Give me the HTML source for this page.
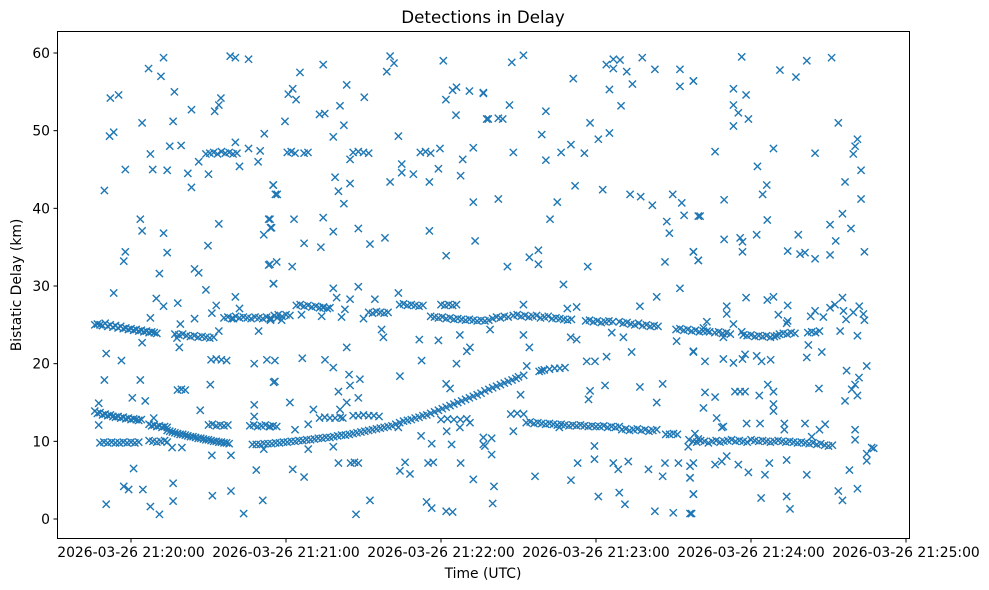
<!DOCTYPE html>
<html><head><meta charset="utf-8"><style>
html,body{margin:0;padding:0;background:#fff;}
svg{display:block;font-family:"DejaVu Sans","Liberation Sans",sans-serif;}
</style></head><body>
<svg id="chart" width="989" height="590" viewBox="0 0 989 590">
<rect x="0" y="0" width="989" height="590" fill="#fff"/>
<text x="483" y="23" font-size="16.7" text-anchor="middle" fill="#000">Detections in Delay</text>
<g id="marks"></g>
<rect x="57.5" y="31.5" width="852" height="507" fill="none" stroke="#000" stroke-width="1"/>
<g id="yaxis"></g>
<g id="xaxis"></g>
<text x="483" y="578" font-size="13.9" text-anchor="middle">Time (UTC)</text>
<text x="0" y="0" font-size="13.9" text-anchor="middle" transform="translate(21,285) rotate(-90)">Bistatic Delay (km)</text>
</svg>
<script>
// seconds after 2026-03-26 21:20:00 UTC, delay in km
const yTicks = [0, 10, 20, 30, 40, 50, 60];
const xTickSeconds = [0, 60, 120, 180, 240, 300];
const xTickLabels = ["2026-03-26 21:20:00","2026-03-26 21:21:00","2026-03-26 21:22:00","2026-03-26 21:23:00","2026-03-26 21:24:00","2026-03-26 21:25:00"];

const trackTimes = [
-14,-13,-12,-11,-10,-9,-8,-7,-6,-5,-4,-3,-2,-1,0,1,2,3,4,5,6,7,8,9,10,
17,18.5,20,21.5,23,24.5,26,27.5,29,30.5,32,
36,37.5,39,40.5,42,43.5,45,46.5,48,49.5,
51,52.5,54,55.5,57,58.5,60,61.5,
64,65.5,67,68.5,70,71.5,73,74.5,76,77,
92,93.5,95,96.5,98,99.5,
104,105.5,107,108.5,110,111.5,113,
116,117.5,119,120.5,122,123.5,125,126.5,128,129.5,131,132.5,134,135.5,137,138.5,140,141.5,143,144.5,146,
120,121.5,123,124.5,126,
148,149.5,151,152.5,154,155.5,157,158.5,160,161.5,163,164.5,166,167.5,169,170.5,
176,177.5,179,180.5,182,183.5,185,186.5,
189,190.5,192,193.5,195,196.5,198,199.5,201,202.5,204,
211,212.5,214,215.5,217,218.5,220,221.5,223,224,
226,227.5,229,230.5,232,
237,238.5,240,241.5,243,244.5,246,247.5,249,250,
251,252.5,254,255.5,257,
262,263.5,265,266.5,
-14,-13,-12,-11,-10,-9,-8,-7,-6,-5,-4,-3,-2,-1,0,1,2,3,4,
-12,-10.5,-9,-7.5,-6,-4.5,-3,-1.5,0,1.5,3,
7,8,9,10,11,12,13,14,
7,8.5,10,11.5,13,14,
14,15,16,17,18,19,20,21,22,23,24,25,26,27,28,29,30,31,32,33,34,35,36,37,38,
30,31.5,33,34.5,36,37.5,
46,47.5,49,50.5,52,53.5,55,
47,48.5,50,51.5,53,54.5,56,57.5,59,60.5,62,63.5,65,66.5,68,69.5,71,72.5,74,75.5,77,78.5,80,81.5,83,84.5,86,87.5,89,90.5,92,93.5,95,96.5,98,99.5,101,102.5,104,105.5,107,108.5,110,111.5,113,114.5,116,117.5,119,120.5,122,123.5,125,126.5,128,129.5,131,132.5,134,135.5,137,138.5,140,141.5,143,144.5,146,147.5,149,
150,152,158,159,160,162,164,166,168,
73,75,77,79,81,82,86,88,90,92,94,96,120,122.5,125,127.5,130,
147,149.5,152,
153,154.5,156,157.5,159,160.5,162,163.5,165,166.5,168,169.5,171,172.5,174,175.5,177,178.5,180,181.5,183,184.5,186,187.5,189,
190,191.5,193,194.5,196,197.5,199,200.5,202,203.5,
207,208.5,210,211.5,
216,217.5,219,220.5,222,223.5,225,226.5,228,229.5,231,232.5,234,235.5,237,238.5,240,241.5,243,244.5,246,247.5,249,250.5,252,253.5,255,256.5,258,259.5,261,262.5,264,265.5,267,268.5,270,271.5,
29,30.5,32,33.5,35,36.5,38,39.5,41,60.5,62,63.5,67,68.5,86,88,90,92,112,114,116,
31,33,35,37,18,19.5,21,73,75,85,86.5,88,115,117,122,124.5
];
const trackDelays = [
25.0,25.1,25.0,24.9,25.2,24.8,25.0,24.7,24.9,24.6,24.8,24.5,24.6,24.4,24.5,24.3,24.4,24.2,24.3,24.1,24.2,24.0,24.1,24.0,23.9,
23.8,23.7,23.8,23.6,23.5,23.6,23.4,23.5,23.4,23.3,23.4,
25.9,26.0,25.8,26.1,25.9,26.0,25.9,25.8,26.0,25.9,
25.8,26.0,25.9,26.2,26.3,26.1,26.3,26.2,
27.5,27.6,27.4,27.5,27.3,27.4,27.2,27.3,27.1,27.2,
26.6,26.5,26.7,26.6,26.5,26.6,
27.6,27.7,27.5,27.6,27.5,27.4,27.5,
26.1,26.0,25.9,26.0,25.8,25.9,25.7,25.8,25.7,25.6,25.7,25.6,25.5,25.6,25.5,25.6,25.8,26.0,25.9,26.1,26.0,
27.6,27.5,27.6,27.5,27.6,
26.2,26.3,26.1,26.2,26.0,26.1,26.2,25.9,26.0,26.1,25.8,25.9,25.8,25.7,25.6,25.7,
25.5,25.6,25.4,25.5,25.3,25.4,25.5,25.4,
25.4,25.2,25.3,25.1,25.0,25.2,24.9,25.0,24.8,24.9,24.8,
24.4,24.5,24.3,24.4,24.2,24.3,24.1,24.2,24.2,24.1,
24.0,24.1,23.9,24.0,23.8,
23.7,23.6,23.7,23.5,23.6,23.5,23.6,23.4,23.5,23.6,
23.8,23.9,23.8,24.0,23.9,
24.0,24.1,24.0,24.2,
13.9,13.6,13.7,13.4,13.5,13.3,13.4,13.2,13.1,13.2,13.0,13.1,12.9,13.0,12.8,12.9,12.8,12.7,12.8,
9.8,9.9,9.8,9.9,9.8,9.8,9.9,9.8,9.9,9.8,9.9,
12.2,12.0,12.1,11.9,12.0,11.8,11.9,11.8,
10.1,10.0,9.9,10.0,10.1,9.9,
11.4,11.3,11.2,11.1,11.0,10.9,10.9,10.8,10.7,10.6,10.6,10.5,10.4,10.4,10.3,10.2,10.2,10.1,10.0,10.0,9.9,9.9,9.8,9.8,9.7,
12.1,12.2,12.0,12.1,12.0,12.1,
12.0,12.1,11.9,12.0,12.1,11.9,12.0,
9.6,9.6,9.6,9.7,9.7,9.7,9.8,9.8,9.9,9.9,10.0,10.0,10.1,10.1,10.2,10.2,10.3,10.4,10.4,10.5,10.5,10.6,10.7,10.8,10.8,10.9,11.0,11.1,11.2,11.3,11.4,11.5,11.6,11.7,11.8,11.9,12.0,12.2,12.4,12.6,12.7,12.8,13.0,13.1,13.3,13.4,13.6,13.8,14.0,14.2,14.4,14.6,14.8,15.0,15.2,15.4,15.6,15.8,16.0,16.2,16.5,16.7,16.9,17.1,17.3,17.5,17.7,17.9,18.1,
18.3,18.5,19.0,19.1,19.2,19.3,19.4,19.4,19.5,
13.0,13.1,13.0,13.0,13.1,13.0,13.3,13.3,13.4,13.3,13.3,13.2,12.8,12.9,12.8,12.8,12.9,
13.5,13.6,13.5,
12.4,12.5,12.3,12.4,12.3,12.2,12.3,12.2,12.1,12.2,12.1,12.0,12.1,12.0,12.1,12.0,11.9,12.0,11.9,11.9,12.0,11.8,11.9,11.8,11.9,
11.5,11.6,11.4,11.5,11.6,11.4,11.5,11.3,11.4,11.5,
10.9,10.9,11.0,10.9,
10.2,10.0,9.9,10.1,10.0,9.8,10.0,10.1,9.9,10.0,10.1,10.2,10.0,10.1,10.0,9.9,10.2,10.1,10.0,10.1,10.0,9.9,10.0,10.1,10.0,9.9,10.0,9.9,9.8,9.9,9.8,9.7,9.8,9.6,9.7,9.5,9.4,9.5,
47.0,47.1,47.2,47.0,47.3,47.1,47.2,47.0,47.1,47.2,47.3,47.1,47.1,47.2,47.2,47.3,47.2,47.1,47.2,47.3,47.1,
20.5,20.6,20.5,20.4,16.6,16.7,16.6,52.1,52.2,7.2,7.3,7.2,7.2,7.3,1.0,0.9
];

const noiseTimes = [
12.6,6.8,11.6,38.4,40.4,45.5,-8,-4.8,16.8,23.4,32.4,34,34.8,4.3,16.3,-8.3,-6.7,7.5,15,19.4,40.4,45.5,50,51.6,-2.2,8.4,14,22,23.4,26.2,30,42,49.2,-10.3,55,55.9,
3.6,4.3,12.6,34,29.8,-2.2,-2.8,14,53.3,51.4,54,11,24.6,26.2,53.3,55.2,-6.7,29,40.4,9.8,12.6,18.1,33,31.3,42,7.5,19.1,24.6,34,49.4,54,17.8,18.7,-9.6,-3.7,47.7,52.6,-10.3,3.6,30.7,55.2,0.5,5.5,-12.5,26.8,47.7,47.7,-12.5,8.8,31.3,38.7,1,48.5,-2.8,-0.9,4.6,16.3,31.5,38.7,-9.6,7.5,11,16.3,43.6,51,4.3,39.7,15.9,19.7,51.4,
65.4,74.4,100.3,101.8,99,120.9,60.9,62.6,63.9,83.5,90.3,80.9,59.6,82.4,78.3,103.5,121.9,124.5,126,131,136.4,125.8,137.7,119.6,132.5,84.8,104.8,104.8,109.3,119,128.4,127.6,100.3,115.5,79,80.3,84.8,82.4,55.1,56.6,132.5,53.8,63.1,74.4,54.4,78.3,88,115.5,98.3,67,73.5,92.5,133.2,122,53.8,56.4,62.4,55.1,78.3,88,103.5,79.6,84.8,94.4,54,56.6,58.3,66,73.8,81.5,90,82.8,74.4,97,97.7,111.6,119,127.3,131.2,130,139,55.7,66.3,75.1,78.3,112.5,126,83.5,84.4,84.8,88.6,104.1,55.7,122,123.5,80.3,83.5,88,61.5,70.6,80.9,68.6,68.6,78.3,80.3,63.5,56.4,62.6,67,92.5,87.1,104.1,108,106.1,112.3,116.4,124.1,127.6,132.5,114.4,116.4,136.4,137,122.2,131.2,127.3,103.5,53.8,
147.4,151.9,171.2,184,186.7,189.3,186.7,191.9,197.9,202.8,212.5,212.5,217.7,185.2,194.1,136.4,146.5,138.3,142.2,143.9,160.6,159,177.7,185.2,180.9,148,160.6,166.5,170.3,175.5,189.7,171.9,182.6,193.2,197.3,201.8,209.7,213.2,214.1,207.4,208.4,219.6,142.2,165,162.2,154.2,157.7,157.7,145.7,176.8,206.7,217.7,219.6,167.4,212.5,203.5,197,151.9,172.5,168.9,151.9,154.2,170.2,172.5,186.1,190.6,193.8,211.2,217.7,153.2,176.4,179.6,184.1,183.5,197,205.8,203.5,177.7,177.1,150.8,136.4,139.6,139.6,148,179.4,179.4,172.9,186.7,188.6,192.5,200.3,205.8,206.7,211.9,215.7,216.4,216.4,218.3,219.6,156.4,170.3,140.5,140,180.9,189,191.2,202.8,209.9,216.4,217.7,165.8,
236.4,251.2,257.4,261.6,271.2,217.7,233.2,238.1,233.2,235.1,239,233.2,273.8,281.2,280.3,279.6,226.1,248.7,264.8,242.5,282.6,246.1,244.5,276.4,229.6,282.6,220.3,246.3,275.4,270.6,278.7,272.8,229.6,235.8,236.7,242.2,258.3,217.7,219.6,236.7,254.2,259,260.9,264.8,270.6,283.9,238.1,246.3,248.7,254.2,250.6,254.2,253.8,230.6,230.6,233.2,222.9,221.6,229.3,236.4,263.1,264.8,268,270.6,272.5,275.4,275.8,276.8,281.9,283.5,283.9,279.6,274.5,281.2,262.2,267.4,217.7,222.2,229.3,233.2,236.7,237.7,242.2,244.1,247.6,261.6,277,284.8,281.8,280.3,279,281.2,276.4,222.2,226.1,221.6,226.7,228.7,229.3,233.8,235.8,237.7,243.2,246.5,248.7,248.7,248.7,266.3,238.3,243.5,252.9,260.9,252.9,263.5,266.5,268.7,280.3,280.3,284.8,286.7,284.8,217.7,226.1,228.7,230.6,235.1,239,245.4,247.1,253.8,261.6,278.1,216.4,217.7,217,243.9,253.8,255.1,273.8,275.4,281.2,287.5
];
const noiseDelays = [
59.4,58.0,57.0,59.6,59.4,59.2,54.2,54.6,55.0,52.7,52.5,53.3,54.2,51.0,51.2,49.3,49.8,47.0,48.0,48.1,48.5,47.7,47.4,49.6,45.0,45.0,44.9,44.5,42.7,46.0,44.4,45.4,46.0,42.3,43.0,41.8,
38.6,37.1,36.8,38.0,35.2,34.4,33.2,34.3,38.6,36.6,37.5,31.6,32.2,31.7,32.7,30.3,29.1,29.5,28.6,28.4,27.4,27.8,27.5,26.5,27.1,25.9,25.1,25.8,24.2,24.2,25.6,23.3,22.1,21.3,20.4,20.0,20.5,17.9,17.9,17.3,17.6,15.6,15.2,14.9,14.0,14.7,13.2,12.1,13.0,8.2,8.2,6.5,6.3,4.2,3.8,3.8,4.6,3.0,3.6,1.9,1.6,0.6,2.3,0.7,2.4,22.7,25.8,9.2,9.2,9.0,
57.5,58.5,59.6,58.7,57.6,59.0,54.7,55.4,54.0,55.9,54.3,53.2,51.2,50.7,49.2,49.3,54.0,55.2,55.6,55.1,54.8,52.0,51.5,47.7,47.8,46.3,45.7,44.6,44.4,45.1,46.3,44.2,43.4,43.4,44.0,42.2,43.2,40.6,43.0,41.8,40.8,38.6,38.6,38.8,37.5,37.0,37.4,37.1,36.2,35.5,35.0,35.4,35.8,33.9,32.8,33.1,32.5,30.3,29.7,29.9,29.1,28.5,28.3,28.3,25.7,25.9,25.6,26.3,26.1,26.0,25.8,27.0,27.2,24.4,23.4,23.1,23.0,23.7,22.1,21.6,24.4,20.4,20.7,20.5,19.5,20.4,20.0,22.1,18.6,17.2,18.0,18.4,17.7,17.4,16.8,16.4,15.0,15.6,15.0,14.1,14.1,12.2,9.0,9.3,7.2,11.5,11.9,6.4,5.4,2.4,0.6,6.2,5.8,7.3,10.7,9.7,9.6,7.2,5.1,2.2,1.4,10.5,9.4,11.3,12.4,11.8,11.8,11.9,
58.8,59.7,56.7,58.5,59.2,59.1,58.0,57.6,59.4,57.9,57.9,55.7,56.4,55.3,56.0,54.9,53.3,51.5,51.6,51.5,52.5,49.5,51.0,49.7,48.9,47.2,46.2,47.2,48.2,47.1,53.2,42.9,42.4,41.8,41.5,40.4,41.8,40.7,39.1,38.3,36.8,39.0,41.2,40.8,38.6,33.7,34.6,32.8,32.5,32.5,33.1,34.4,33.3,30.2,29.7,28.6,27.4,27.6,27.3,27.1,23.7,22.1,23.4,23.1,24.0,23.4,21.5,22.9,21.6,19.7,20.3,20.3,20.9,17.2,17.0,17.4,15.0,16.5,15.4,16.0,9.6,10.4,8.3,11.3,9.4,7.7,7.2,7.2,6.4,7.4,6.4,5.5,7.2,7.2,9.3,6.8,5.3,11.0,10.3,5.5,5.0,4.2,2.0,2.9,3.4,1.9,1.0,0.8,0.7,3.2,11.8,
59.5,57.8,56.9,59.0,59.4,56.4,55.4,54.6,53.3,52.3,51.5,50.6,51.0,48.9,48.0,47.0,47.3,47.7,47.1,45.4,44.9,43.0,41.8,43.4,41.1,41.2,39.0,38.5,39.3,37.9,37.4,35.8,36.0,36.2,35.7,36.6,36.6,34.4,33.3,34.4,34.5,34.1,34.3,33.5,34.0,34.4,28.5,28.2,28.6,27.5,26.3,25.5,25.2,27.4,26.4,25.1,25.4,24.6,23.4,24.1,26.1,26.8,26.0,27.2,27.6,28.5,26.8,25.7,27.4,26.4,25.6,26.6,24.2,23.6,22.4,21.5,21.5,20.3,20.6,20.1,20.6,21.2,21.0,20.3,20.5,20.8,19.1,19.7,18.2,17.3,16.7,15.9,15.2,16.3,15.7,14.3,13.0,11.8,11.9,16.4,16.4,16.4,15.9,17.3,16.4,14.8,13.9,16.8,12.3,12.3,12.3,12.3,11.5,10.6,11.5,12.2,11.5,10.2,8.4,9.2,7.5,7.2,7.0,7.4,8.1,7.0,6.0,5.7,7.2,7.6,5.7,6.3,5.3,3.2,0.7,2.7,2.9,1.3,3.6,2.4,3.9,9.1
];

const NS = "http://www.w3.org/2000/svg";
const X0 = 131, PXS = 155/60;        // x axis: px per second
const Y0 = 519, PXK = (519-53)/60;   // y axis: px per km
function xScale(t){ return X0 + t*PXS; }
function yScale(d){ return Y0 - d*PXK; }

const marks = document.getElementById('marks');
function addX(t, d, name){
  const cx = xScale(t), cy = yScale(d), r = 3.6;
  const p = document.createElementNS(NS,'path');
  p.setAttribute('d', `M${cx-r},${cy-r}L${cx+r},${cy+r}M${cx-r},${cy+r}L${cx+r},${cy-r}`);
  p.setAttribute('stroke','#1f77b4');
  p.setAttribute('stroke-width','1.4');
  p.setAttribute('fill','none');
  
  
  marks.appendChild(p);
}
for (let i=0;i<trackTimes.length;i++){ addX(trackTimes[i], trackDelays[i], 'track-detection'); }
for (let i=0;i<noiseTimes.length;i++){ addX(noiseTimes[i], noiseDelays[i], 'detection-point'); }

const yaxis = document.getElementById('yaxis');
yTicks.forEach(v=>{
  const y = yScale(v);
  const l = document.createElementNS(NS,'line');
  l.setAttribute('x1',53.5); l.setAttribute('x2',57.5); l.setAttribute('y1',y); l.setAttribute('y2',y);
  l.setAttribute('stroke','#000');
  
  
  yaxis.appendChild(l);
  const tx = document.createElementNS(NS,'text');
  tx.setAttribute('x',50); tx.setAttribute('y',y+5);
  tx.setAttribute('font-size','13.9'); tx.setAttribute('text-anchor','end');
  tx.textContent = String(v);
  
  
  yaxis.appendChild(tx);
});
const xaxis = document.getElementById('xaxis');
xTickSeconds.forEach((s,i)=>{
  const x = xScale(s);
  const l = document.createElementNS(NS,'line');
  l.setAttribute('x1',x); l.setAttribute('x2',x); l.setAttribute('y1',538.5); l.setAttribute('y2',542.5);
  l.setAttribute('stroke','#000');
  
  
  xaxis.appendChild(l);
  const tx = document.createElementNS(NS,'text');
  tx.setAttribute('x',x); tx.setAttribute('y',557);
  tx.setAttribute('font-size','13.9'); tx.setAttribute('text-anchor','middle');
  tx.textContent = xTickLabels[i];
  
  
  xaxis.appendChild(tx);
});
</script>
</body></html>
